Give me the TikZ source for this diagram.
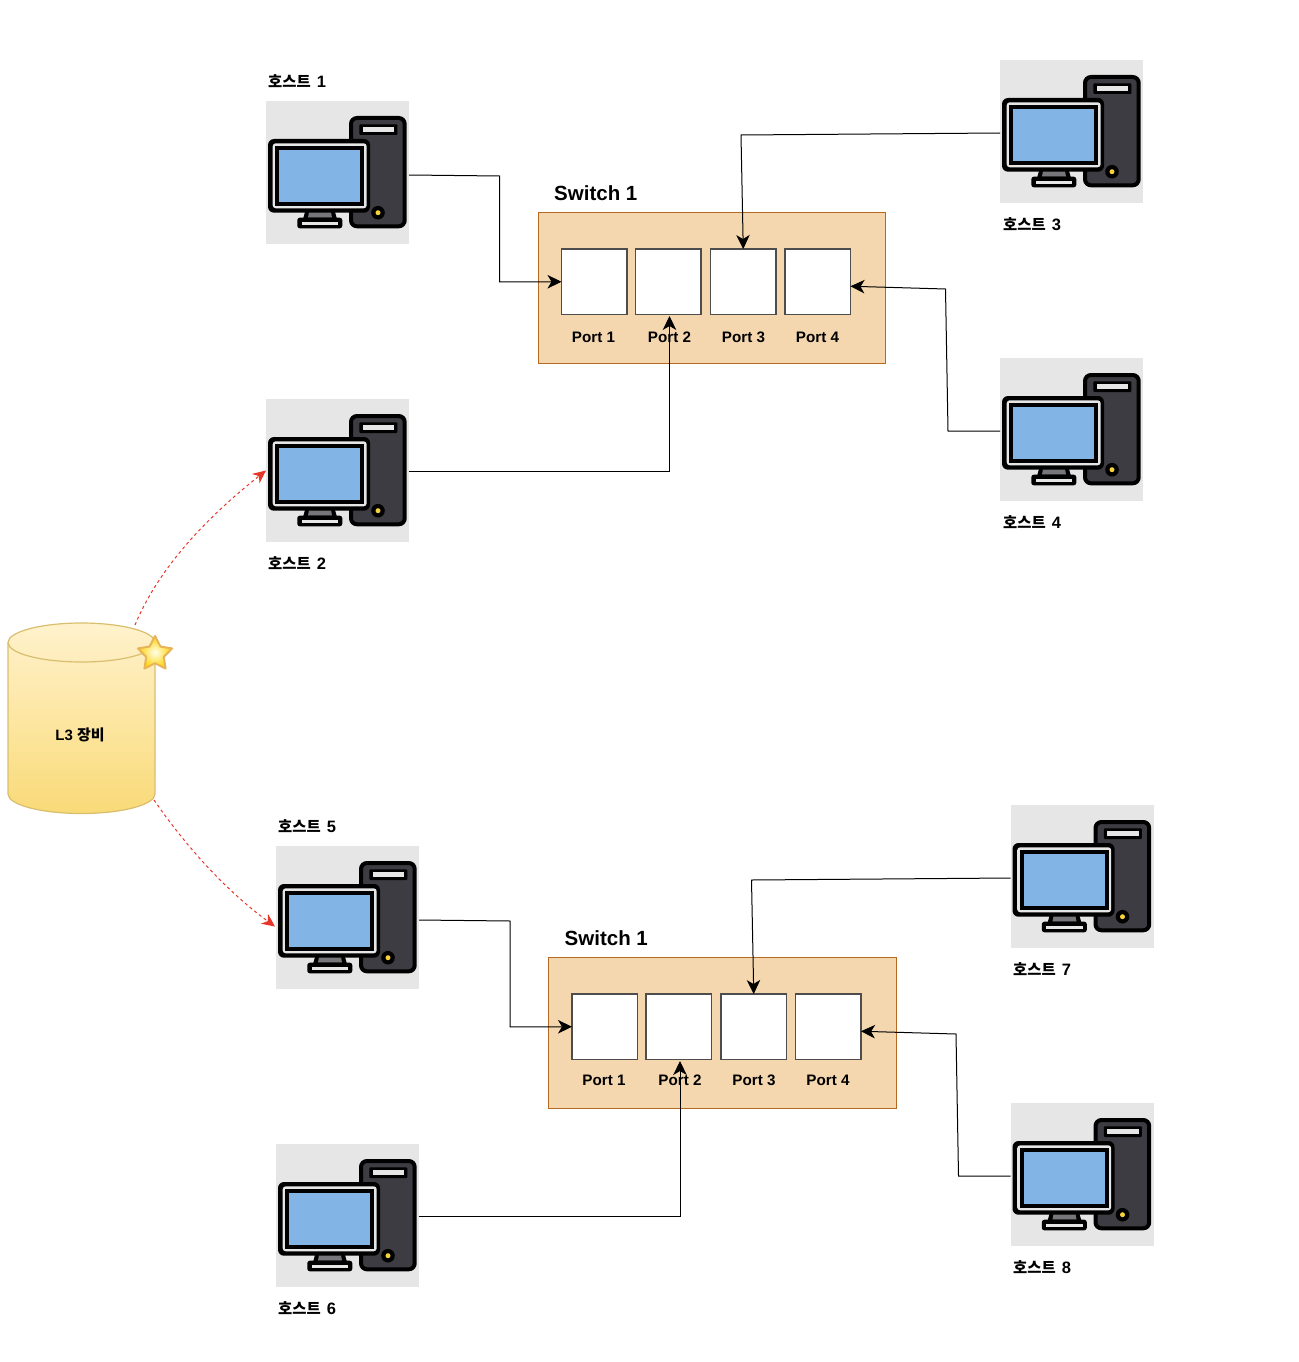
\documentclass[tikz,border=0pt]{standalone}
\usepackage{fontspec}
\setmainfont{Liberation Sans}
\newfontfamily\kr{Noto Sans CJK KR}
\usetikzlibrary{arrows.meta,shapes.geometric,calc}
\definecolor{tilegray}{HTML}{E6E6E6}
\definecolor{towergray}{HTML}{3C3C42}
\definecolor{screenblue}{HTML}{83B4E6}
\definecolor{swfill}{HTML}{F4D7AE}
\definecolor{swline}{HTML}{B46A20}
\definecolor{portline}{HTML}{4D4D4D}
\definecolor{cyltop}{HTML}{FFF2CC}
\definecolor{cylbot}{HTML}{F9DA78}
\definecolor{cylline}{HTML}{D9BE6E}
\definecolor{redline}{HTML}{E8352A}
\definecolor{starline}{HTML}{E8B45A}
\definecolor{knob}{HTML}{F5D33C}
\newcommand{\hostname}[1]{{\kr\bfseries 호스트}\hspace{1.8pt} {\fontsize{16.5}{18}\selectfont\textbf{#1}}}
\tikzset{
  tile/.style={fill=tilegray,draw=none,minimum width=143pt,minimum height=143pt,inner sep=0pt,outer sep=0pt,anchor=north west},
  switchbox/.style={fill=swfill,draw=swline,line width=1pt,minimum width=347.5pt,minimum height=151pt,inner sep=0pt,outer sep=0pt,anchor=north west},
  portbox/.style={fill=white,draw=portline,line width=1.2pt,minimum width=65.5pt,minimum height=65.5pt,inner sep=0pt,outer sep=0pt,anchor=north west},
  portlabel/.style={font=\fontsize{15.2}{18}\selectfont\bfseries,inner sep=0pt},
  hostlabel/.style={font=\fontsize{15.4}{18}\selectfont,inner sep=0pt,anchor=west},
  switchlabel/.style={font=\fontsize{20.5}{24}\selectfont\bfseries,inner sep=0pt,anchor=west},
  link/.style={draw=black,line width=1pt,-{Stealth[length=14pt,width=13.5pt,inset=4pt]}},
  redlink/.style={draw=redline,line width=1pt,dash pattern=on 3pt off 3pt,-{Stealth[length=13pt,width=12pt,inset=4pt]}},
  pc/.pic={
    % tower
    \draw[fill=towergray,draw=black,line width=4pt,rounded corners=6pt] (85,17) rectangle (138.7,125.3);
    \fill[black,rounded corners=1pt] (93.3,23.3) rectangle (131.3,34);
    \fill[tilegray] (96.7,26.3) rectangle (128,31.3);
    \fill[black] (112,111.7) circle (6.8pt);
    \fill[knob] (112,111.7) circle (2.5pt);
    % stand
    \fill[black] (39,111) -- (69,111) -- (71,118) -- (37,118) -- cycle;
    \fill[towergray!70!white] (43,111) -- (65,111) -- (66,116.5) -- (42,116.5) -- cycle;
    \fill[black,rounded corners=2.5pt] (31.3,116.7) rectangle (76.3,127.3);
    \fill[tilegray] (35.7,120.7) rectangle (72.3,124);
    % monitor
    \fill[black,rounded corners=6pt] (2,38) rectangle (104,111.7);
    \fill[tilegray,rounded corners=3pt] (6.7,42.3) rectangle (100.7,107.3);
    \fill[black] (9,45) rectangle (98,104.5);
    \fill[screenblue] (13,49) rectangle (94.3,100.7);
  }
}
\begin{document}
\begin{tikzpicture}[x=1pt,y=-1pt]
\useasboundingbox (0,0) rectangle (1298,1362);
% hosts
\node[tile] (h1) at (266,101) {}; \pic at (h1.north west) {pc};
\node[tile] (h2) at (266,399) {}; \pic at (h2.north west) {pc};
\node[tile] (h3) at (1000,60) {}; \pic at (h3.north west) {pc};
\node[tile] (h4) at (1000,358) {}; \pic at (h4.north west) {pc};
\node[tile] (h5) at (276,846) {}; \pic at (h5.north west) {pc};
\node[tile] (h6) at (276,1144) {}; \pic at (h6.north west) {pc};
\node[tile] (h7) at (1010.5,805) {}; \pic at (h7.north west) {pc};
\node[tile] (h8) at (1010.5,1103) {}; \pic at (h8.north west) {pc};
\node[hostlabel] (t1) at (268,81) {\hostname{1}};
\node[hostlabel] (t2) at (268,563) {\hostname{2}};
\node[hostlabel] (t3) at (1003,224) {\hostname{3}};
\node[hostlabel] (t4) at (1003,522) {\hostname{4}};
\node[hostlabel] (t5) at (278,826) {\hostname{5}};
\node[hostlabel] (t6) at (278,1308) {\hostname{6}};
\node[hostlabel] (t7) at (1013,969) {\hostname{7}};
\node[hostlabel] (t8) at (1013,1267) {\hostname{8}};
% switch A
\node[switchbox] (swa) at (538,212) {};
\node[switchlabel] (swat) at (554,193) {Switch 1};
\node[portbox] (a1) at (561.5,249) {};
\node[portbox] (a2) at (635.5,249) {};
\node[portbox] (a3) at (710.5,249) {};
\node[portbox] (a4) at (785,249) {};
\node[portlabel] (al1) at (593.5,337) {Port 1};
\node[portlabel] (al2) at (669.5,337) {Port 2};
\node[portlabel] (al3) at (743.5,337) {Port 3};
\node[portlabel] (al4) at (817.5,337) {Port 4};
% switch B
\node[switchbox] (swb) at (548.5,957) {};
\node[switchlabel] (swbt) at (564.5,938) {Switch 1};
\node[portbox] (b1) at (572,994) {};
\node[portbox] (b2) at (646,994) {};
\node[portbox] (b3) at (721,994) {};
\node[portbox] (b4) at (795.5,994) {};
\node[portlabel] (bl1) at (604,1080) {Port 1};
\node[portlabel] (bl2) at (680,1080) {Port 2};
\node[portlabel] (bl3) at (754,1080) {Port 3};
\node[portlabel] (bl4) at (828,1080) {Port 4};
% L3 device
\shade[top color=cyltop,bottom color=cylbot,draw=cylline,line width=1.2pt]
  (8,642.5) arc[start angle=180,end angle=0,x radius=73.5pt,y radius=19.5pt]
  -- (155,794) arc[start angle=360,end angle=180,x radius=73.5pt,y radius=19.5pt] -- cycle;
\draw[cylline,line width=1.2pt] (8,642.5) arc[start angle=180,end angle=360,x radius=73.5pt,y radius=19.5pt];
\node[inner sep=0pt,font=\fontsize{15}{18}\selectfont] (l3) at (80,734.5) {\textbf{L3} {\kr\bfseries 장비}};
\coordinate (l3top) at (135,625);
\coordinate (l3bot) at (154,800);
% star
\node[star,star points=5,star point ratio=1.95,minimum size=36pt,inner sep=0pt,draw=starline,line width=2pt,line join=round,
  inner color=yellow!8!white,outer color=yellow!65!orange] (badge) at (155,654) {};
% links
\draw[link] ([yshift=-2.5pt]h1.east) -- (499.5,176) -- (a1.west -| 499.5,0) -- (a1.west);
\draw[link] ([yshift=-0.5pt]h2.east) -- (669.5,471) -- ([xshift=1.25pt,yshift=-1.5pt]a2.south);
\draw[link] ([yshift=-1.5pt]h3.west) -- (741,135) -- (a3.north);
\draw[link] ([yshift=-1.5pt]h4.west) -- (948,431) -- (945.5,289) -- ([yshift=-4.5pt]a4.east);
\draw[link] ([yshift=-2.5pt]h5.east) -- (510,921) -- (b1.west -| 510,0) -- (b1.west);
\draw[link] ([yshift=-0.5pt]h6.east) -- (680,1216) -- ([xshift=1.25pt,yshift=-1.5pt]b2.south);
\draw[link] ([yshift=-1.5pt]h7.west) -- (751.5,880) -- (b3.north);
\draw[link] ([yshift=-1.5pt]h8.west) -- (958.5,1176) -- (956,1034) -- ([yshift=-4.5pt]b4.east);
\draw[redlink] (l3top) .. controls (160,565) and (210,515) .. (h2.west);
\draw[redlink] (l3bot) .. controls (185,845) and (225,890) .. ([yshift=-9pt,xshift=-1pt]h5.west);
\end{tikzpicture}
\end{document}
